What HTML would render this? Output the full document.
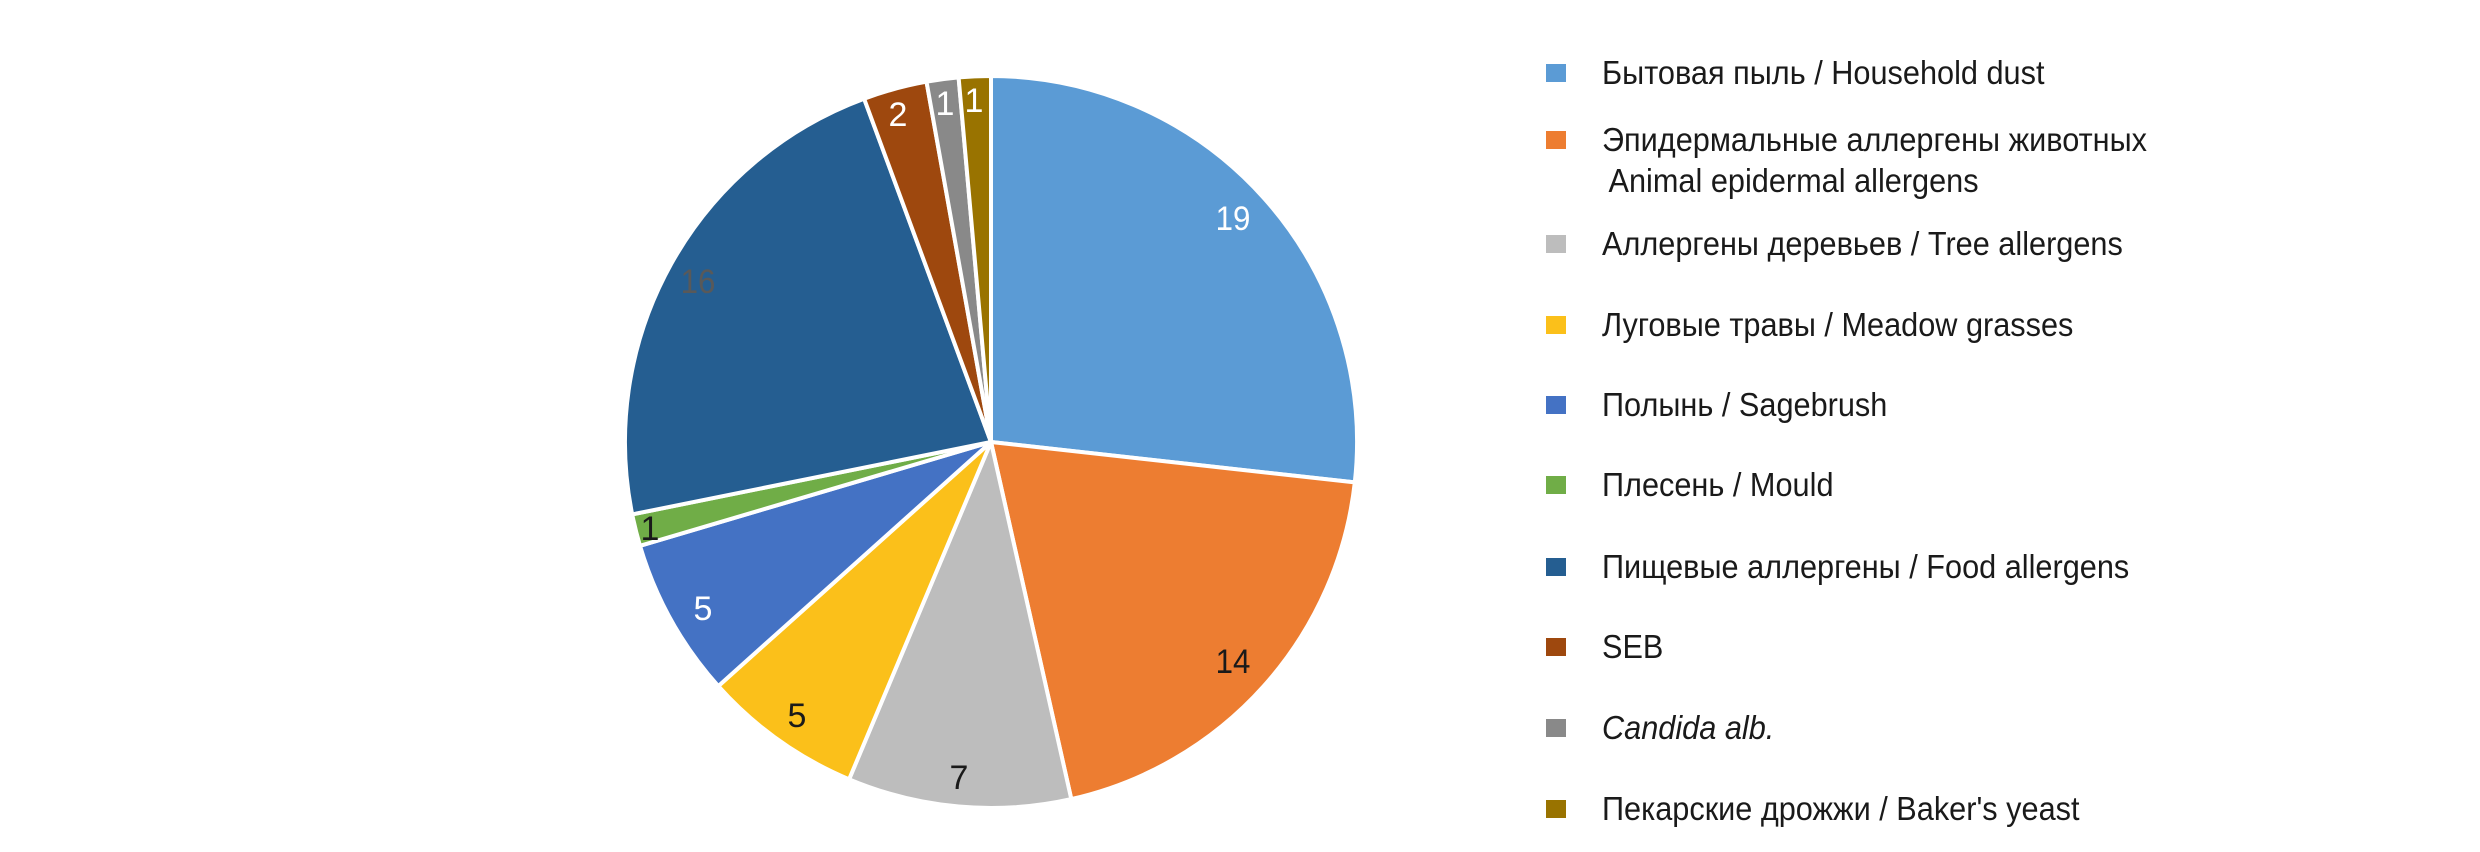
<!DOCTYPE html>
<html><head><meta charset="utf-8"><style>
html,body{margin:0;padding:0;background:#fff;}
svg{display:block;}
text{font-family:"Liberation Sans",sans-serif;}
</style></head><body>
<svg width="2480" height="852" viewBox="0 0 2480 852" xmlns="http://www.w3.org/2000/svg">
<rect width="2480" height="852" fill="#fff"/>
<g stroke="#fff" stroke-width="4" stroke-linejoin="round">
<path d="M991,442 L991,76 A366,366 0 0 1 1354.8,482.4 Z" fill="#5b9bd5"/>
<path d="M991,442 L1354.8,482.4 A366,366 0 0 1 1071.3,799.1 Z" fill="#ed7d31"/>
<path d="M991,442 L1071.3,799.1 A366,366 0 0 1 849.1,779.3 Z" fill="#bdbdbd"/>
<path d="M991,442 L849.1,779.3 A366,366 0 0 1 718.3,686.1 Z" fill="#fbc01a"/>
<path d="M991,442 L718.3,686.1 A366,366 0 0 1 640.0,545.8 Z" fill="#4472c4"/>
<path d="M991,442 L640.0,545.8 A366,366 0 0 1 632.2,514.4 Z" fill="#70ad47"/>
<path d="M991,442 L632.2,514.4 A366,366 0 0 1 864.1,98.7 Z" fill="#255e91"/>
<path d="M991,442 L864.1,98.7 A366,366 0 0 1 926.5,81.7 Z" fill="#9e480e"/>
<path d="M991,442 L926.5,81.7 A366,366 0 0 1 958.6,77.4 Z" fill="#898989"/>
<path d="M991,442 L958.6,77.4 A366,366 0 0 1 991,76 Z" fill="#997300"/>
</g>
<g font-size="34" text-anchor="middle">
<text x="1233" y="230" fill="#fff" transform="translate(1233,0) scale(0.92,1) translate(-1233,0)">19</text>
<text x="1233" y="673" fill="#1a1a1a" transform="translate(1233,0) scale(0.92,1) translate(-1233,0)">14</text>
<text x="959" y="789" fill="#1a1a1a">7</text>
<text x="797" y="727" fill="#1a1a1a">5</text>
<text x="703" y="620" fill="#fff">5</text>
<text x="650" y="540" fill="#1a1a1a">1</text>
<text x="698" y="293" fill="#595959" transform="translate(698,0) scale(0.92,1) translate(-698,0)">16</text>
<text x="898" y="126" fill="#fff">2</text>
<text x="945" y="115" fill="#fff">1</text>
<text x="974" y="112" fill="#fff">1</text>
</g>
<g>
<rect x="1546" y="64" width="20" height="18" fill="#5b9bd5"/>
<rect x="1546" y="131" width="20" height="18" fill="#ed7d31"/>
<rect x="1546" y="235" width="20" height="18" fill="#bdbdbd"/>
<rect x="1546" y="316" width="20" height="18" fill="#fbc01a"/>
<rect x="1546" y="396" width="20" height="18" fill="#4472c4"/>
<rect x="1546" y="476" width="20" height="18" fill="#70ad47"/>
<rect x="1546" y="558" width="20" height="18" fill="#255e91"/>
<rect x="1546" y="638" width="20" height="18" fill="#9e480e"/>
<rect x="1546" y="719" width="20" height="18" fill="#898989"/>
<rect x="1546" y="800" width="20" height="18" fill="#997300"/>
</g>
<g font-size="33" fill="#1a1a1a" transform="translate(1602,0) scale(0.93,1)">
<text x="0" y="84">Бытовая пыль / Household dust</text>
<text x="0" y="151">Эпидермальные аллергены животных</text>
<text x="7" y="192">Animal epidermal allergens</text>
<text x="0" y="255">Аллергены деревьев / Tree allergens</text>
<text x="0" y="336">Луговые травы / Meadow grasses</text>
<text x="0" y="416">Полынь / Sagebrush</text>
<text x="0" y="496">Плесень / Mould</text>
<text x="0" y="578">Пищевые аллергены / Food allergens</text>
<text x="0" y="658">SEB</text>
<text x="0" y="739" font-style="italic">Candida alb.</text>
<text x="0" y="820">Пекарские дрожжи / Baker's yeast</text>
</g>
</svg>
</body></html>
